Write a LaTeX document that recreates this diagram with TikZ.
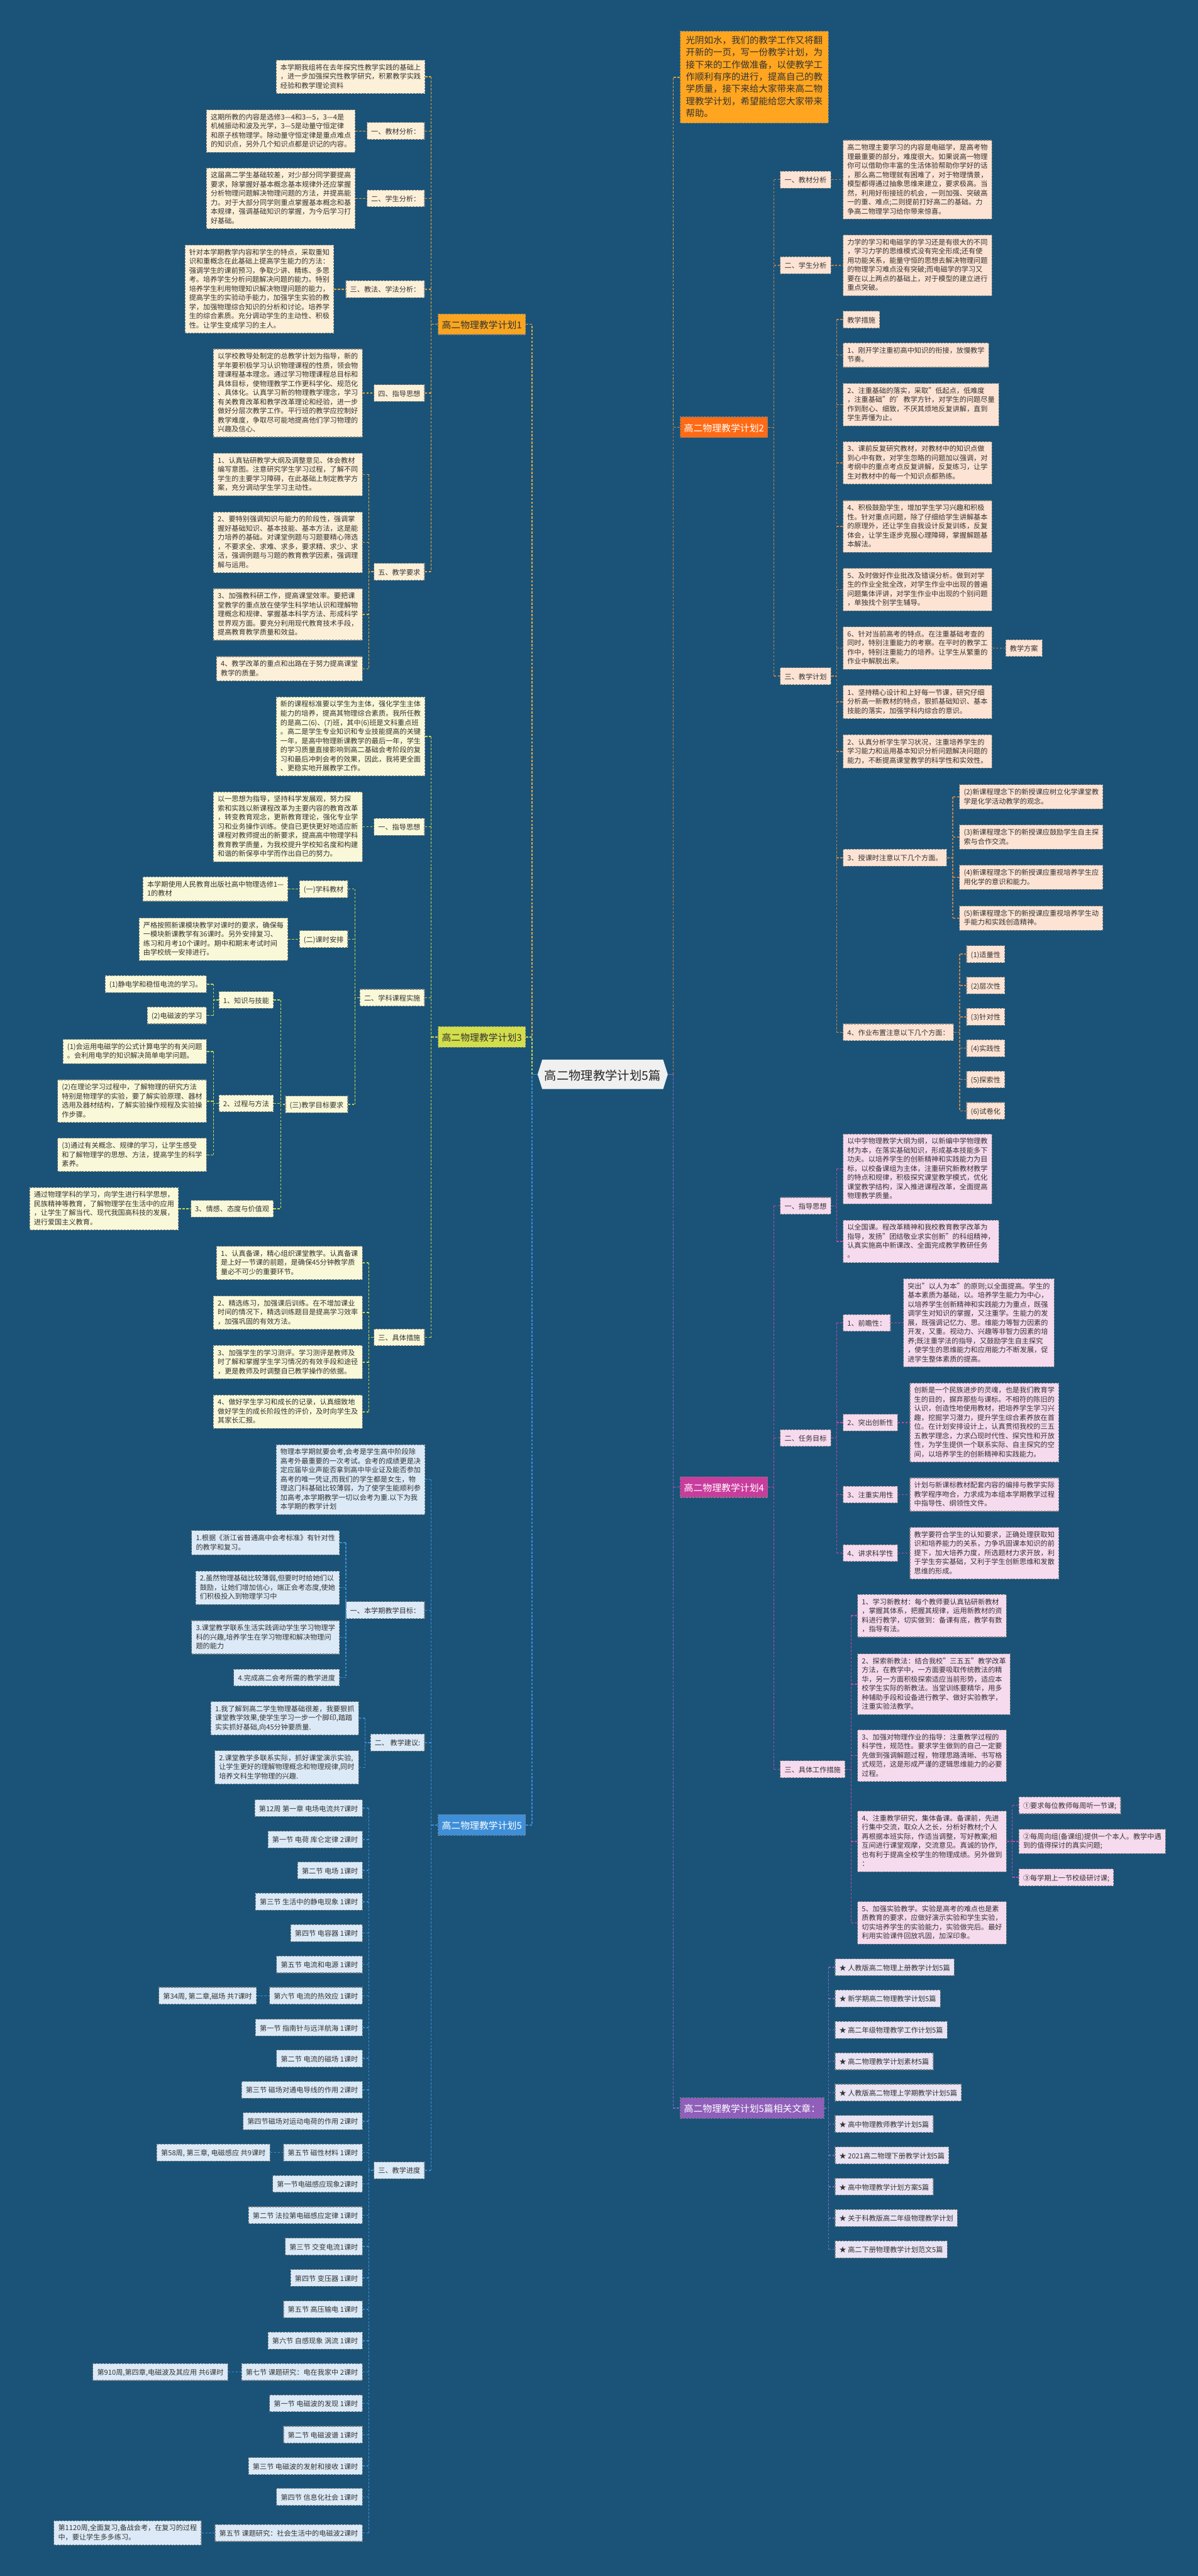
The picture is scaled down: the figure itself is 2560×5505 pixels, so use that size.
\documentclass[tikz,border=0pt]{standalone}
\usepackage{fontspec}
\setmainfont{Noto Sans CJK SC}
\usetikzlibrary{shapes.symbols,positioning}
\definecolor{bg}{HTML}{1A5377}
\definecolor{tx}{HTML}{333333}
\definecolor{cI}{HTML}{FFA51F}
\definecolor{cP1}{HTML}{F9A51F}
\definecolor{cP3}{HTML}{D3DE4B}
\definecolor{cP5}{HTML}{3E8FD9}
\definecolor{cP2}{HTML}{FF6A14}
\definecolor{cP4}{HTML}{C93C9D}
\definecolor{cP6}{HTML}{8F5FBA}
\definecolor{lP1}{HTML}{FDF0D8}
\definecolor{lP3}{HTML}{F9F8D8}
\definecolor{lP5}{HTML}{DCEAF7}
\definecolor{lP2}{HTML}{FDE3D3}
\definecolor{lP4}{HTML}{F6DAEE}
\definecolor{lP6}{HTML}{E9E3F3}
\definecolor{kI}{HTML}{D9A04A}
\definecolor{kP1}{HTML}{EBA73A}
\definecolor{kP3}{HTML}{C9D64C}
\definecolor{kP5}{HTML}{3D8CD6}
\definecolor{kP2}{HTML}{C98048}
\definecolor{kP4}{HTML}{BD4AA2}
\definecolor{kP6}{HTML}{8068C4}
\newcommand\fsleaf{\fontsize{15}{19.5}\selectfont}
\newcommand\fsbig{\fontsize{20}{26}\selectfont}
\newcommand\fsintro{\fontsize{19.5}{26}\selectfont}
\newcommand\fscen{\fontsize{26}{32}\selectfont}
\newcommand\mystrut{\rule[-0.2em]{0pt}{1.3em}}
\newcommand\ltree[6]{%
  \draw[#1] (#2.west) -- (#2.west -| #3);
  \draw[#1] (#4.east -| #3) -- (#5.east -| #3);
  \foreach \nn in {#6}{\draw[#1] (\nn.east) -- (\nn.east -| #3);}%
}
\newcommand\rtree[6]{%
  \draw[#1] (#2.east) -- (#2.east -| #3);
  \draw[#1] (#4.west -| #3) -- (#5.west -| #3);
  \foreach \nn in {#6}{\draw[#1] (\nn.west) -- (\nn.west -| #3);}%
}
\tikzset{
  nbox/.style={rectangle, draw=black!50, line width=1.5pt, dash pattern=on 4pt off 2.5pt, align=left, execute at begin node=\mystrut, execute at end node=\mystrut},
  lf/.style={nbox, inner xsep=9pt, inner ysep=8.25pt, font=\fsleaf, text=tx},
  lfA/.style={lf, fill=lP1},
  lfB/.style={lf, fill=lP3},
  lfC/.style={lf, fill=lP5},
  lfD/.style={lf, fill=lP2},
  lfE/.style={lf, fill=lP4},
  lfF/.style={lf, fill=lP6},
  lvl1/.style={nbox, inner xsep=8pt, inner ysep=9pt, font=\fsbig},
  conn/.style={draw=#1, line width=2pt, dash pattern=on 5pt off 3pt},
}
\begin{document}
\begin{tikzpicture}[x=1pt,y=-1pt]
\useasboundingbox (0,0) rectangle (2560,5505);
\fill[bg] (0,0) rectangle (2560,5505);
\foreach \nm/\xx in {T456/456,T600/600,T739/739,T759/759,T780/780,T788/788,T921/921,TL/1137,TR/1439,T1654/1654,T1771/1771,T1788/1788,T1819/1819,T2036/2036,T2051/2051,T2163/2163}{\coordinate (\nm) at (\xx,0);}

% ---------- center ----------
\node[signal, signal to=west and east, signal pointer angle=145, fill=white!94!black, font=\fscen, text=black!85, inner xsep=5pt, inner ysep=14.5pt, execute at begin node=\mystrut] (cen) at (1288,2296) {高二物理教学计划5篇};

% ---------- plan 1 ----------
\node[lvl1, fill=cP1, text=tx, anchor=east] (p1) at (1124,693) {高二物理教学计划1};
\node[lfA, anchor=east] (p1a) at (909,164) {本学期我组将在去年探究性教学实践的基础上\\，进一步加强探究性教学研究，积累教学实践\\经验和教学理论资料};
\node[lfA, anchor=east] (p1b) at (908,280) {一、教材分析：};
\node[lfA, anchor=east] (p1bL) at (760,280) {这期所教的内容是选修3—4和3—5，3—4是\\机械振动和波及光学，3—5是动量守恒定律\\和原子核物理学。除动量守恒定律是重点难点\\的知识点，另外几个知识点都是识记的内容。};
\node[lfA, anchor=east] (p1c) at (908,424) {二、学生分析：};
\node[lfA, anchor=east] (p1cL) at (760,424) {这届高二学生基础较差，对少部分同学要提高\\要求，除掌握好基本概念基本规律外还应掌握\\分析物理问题解决物理问题的方法，并提高能\\力。对于大部分同学则重点掌握基本概念和基\\本规律，强调基础知识的掌握，为今后学习打\\好基础。};
\node[lfA, anchor=east] (p1d) at (908,618) {三、教法、学法分析：};
\node[lfA, anchor=east] (p1dL) at (714,618) {针对本学期教学内容和学生的特点，采取重知\\识和重概念在此基础上提高学生能力的方法：\\强调学生的课前预习，争取少讲、精练、多思\\考。培养学生分析问题解决问题的能力。特别\\培养学生利用物理知识解决物理问题的能力，\\提高学生的实验动手能力，加强学生实验的教\\学，加强物理综合知识的分析和讨论。培养学\\生的综合素质。充分调动学生的主动性、积极\\性。让学生变成学习的主人。};
\node[lfA, anchor=east] (p1e) at (908,840) {四、指导思想};
\node[lfA, anchor=east] (p1eL) at (775,840) {以学校教导处制定的总教学计划为指导，新的\\学年要积极学习认识物理课程的性质，领会物\\理课程基本理念。通过学习物理课程总目标和\\具体目标，使物理教学工作更科学化、规范化\\、具体化。认真学习新的物理教学理念，学习\\有关教育改革和教学改革理论和经验，进一步\\做好分层次教学工作。平行班的教学应控制好\\教学难度，争取尽可能地提高他们学习物理的\\兴趣及信心、};
\node[lfA, anchor=east] (p1f) at (908,1222) {五、教学要求};
\node[lfA, anchor=east] (p1f1) at (775,1014) {1、认真钻研教学大纲及调整意见、体会教材\\编写意图。注意研究学生学习过程，了解不同\\学生的主要学习障碍，在此基础上制定教学方\\案，充分调动学生学习主动性。};
\node[lfA, anchor=east] (p1f2) at (775,1159) {2、要特别强调知识与能力的阶段性，强调掌\\握好基础知识、基本技能、基本方法，这是能\\力培养的基础。对课堂例题与习题要精心筛选\\，不要求全、求难、求多，要求精、求少、求\\活，强调例题与习题的教育教学因素，强调理\\解与运用。};
\node[lfA, anchor=east] (p1f3) at (775,1313) {3、加强教科研工作，提高课堂效率。要把课\\堂教学的重点放在使学生科学地认识和理解物\\理概念和规律、掌握基本科学方法、形成科学\\世界观方面。要充分利用现代教育技术手段，\\提高教育教学质量和效益。};
\node[lfA, anchor=east] (p1f4) at (775,1429) {4、教学改革的重点和出路在于努力提高课堂\\教学的质量。};
\ltree{conn=kP1}{p1}{T921}{p1a}{p1f}{p1a,p1b,p1c,p1d,p1e,p1f}
\draw[conn=kP1] (p1bL.east) -- (p1b.west);
\draw[conn=kP1] (p1cL.east) -- (p1c.west);
\draw[conn=kP1] (p1dL.east) -- (p1d.west);
\draw[conn=kP1] (p1eL.east) -- (p1e.west);
\ltree{conn=kP1}{p1f}{T788}{p1f1}{p1f4}{p1f1,p1f2,p1f3,p1f4}

% ---------- plan 3 ----------
\node[lvl1, fill=cP3, text=tx, anchor=east] (p3) at (1124,2216) {高二物理教学计划3};
\node[lfB, anchor=east] (p3a) at (909,1574) {新的课程标准要以学生为主体，强化学生主体\\能力的培养，提高其物理综合素质。我所任教\\的是高二(6)、(7)班，其中(6)班是文科重点班\\。高二是学生专业知识和专业技能提高的关键\\一年，是高中物理新课教学的最后一年，学生\\的学习质量直接影响到高二基础会考阶段的复\\习和最后冲刺会考的效果，因此，我将更全面\\、更稳实地开展教学工作。};
\node[lfB, anchor=east] (p3b) at (908,1767) {一、指导思想};
\node[lfB, anchor=east] (p3bL) at (775,1767) {以一思想为指导，坚持科学发展观，努力探\\索和实践以新课程改革为主要内容的教育改革\\，转变教育观念，更新教育理论，强化专业学\\习和业务操作训练。使自已更快更好地适应新\\课程对教师提出的新要求，提高高中物理学科\\教育教学质量，为我校提升学校知名度和构建\\和谐的新保亭中学而作出自已的努力。};
\node[lfB, anchor=east] (p3c) at (908,2132) {二、学科课程实施};
\node[lfB, anchor=east] (p3c1) at (744,1900) {(一)学科教材};
\node[lfB, anchor=east] (p3c1L) at (616,1900) {本学期使用人民教育出版社高中物理选修1—\\1的教材};
\node[lfB, anchor=east] (p3c2) at (744,2007) {(二)课时安排};
\node[lfB, anchor=east] (p3c2L) at (616,2007) {严格按照新课模块教学对课时的要求，确保每\\一模块新课教学有36课时。另外安排复习、\\练习和月考10个课时。期中和期末考试时间\\由学校统一安排进行。};
\node[lfB, anchor=east] (p3c3) at (744,2360) {(三)教学目标要求};
\node[lfB, anchor=east] (k1) at (585,2137) {1、知识与技能};
\node[lfB, anchor=east] (k1a) at (442,2103) {(1)静电学和稳恒电流的学习。};
\node[lfB, anchor=east] (k1b) at (442,2170) {(2)电磁波的学习};
\node[lfB, anchor=east] (k2) at (585,2358) {2、过程与方法};
\node[lfB, anchor=east] (k2a) at (442,2247) {(1)会运用电磁学的公式计算电学的有关问题\\。会利用电学的知识解决简单电学问题。};
\node[lfB, anchor=east] (k2b) at (442,2353) {(2)在理论学习过程中，了解物理的研究方法\\特别是物理学的实验，要了解实验原理、器材\\选用及器材结构，了解实验操作规程及实验操\\作步骤。};
\node[lfB, anchor=east] (k2c) at (442,2468) {(3)通过有关概念、规律的学习，让学生感受\\和了解物理学的思想、方法，提高学生的科学\\素养。};
\node[lfB, anchor=east] (k3) at (585,2583) {3、情感、态度与价值观};
\node[lfB, anchor=east] (k3L) at (382,2583) {通过物理学科的学习，向学生进行科学思想，\\民族精神等教育，了解物理学在生活中的应用\\，让学生了解当代、现代我国高科技的发展，\\进行爱国主义教育。};
\node[lfB, anchor=east] (p3d) at (908,2858) {三、具体措施};
\node[lfB, anchor=east] (p3d1) at (775,2699) {1、认真备课，精心组织课堂教学。认真备课\\是上好一节课的前题，是确保45分钟教学质\\量必不可少的重要环节。};
\node[lfB, anchor=east] (p3d2) at (775,2805) {2、精选练习，加强课后训练。在不增加课业\\时间的情况下，精选训练题目是提高学习效率\\，加强巩固的有效方法。};
\node[lfB, anchor=east] (p3d3) at (775,2911) {3、加强学生的学习测评。学习测评是教师及\\时了解和掌握学生学习情况的有效手段和途径\\，更是教师及时调整自已教学操作的依据。};
\node[lfB, anchor=east] (p3d4) at (775,3017) {4、做好学生学习和成长的记录，认真细致地\\做好学生的成长阶段性的评价，及时向学生及\\其家长汇报。};
\ltree{conn=kP3}{p3}{T921}{p3a}{p3d}{p3a,p3b,p3c,p3d}
\draw[conn=kP3] (p3bL.east) -- (p3b.west);
\ltree{conn=kP3}{p3c}{T759}{p3c1}{p3c3}{p3c1,p3c2,p3c3}
\draw[conn=kP3] (p3c1L.east) -- (p3c1.west);
\draw[conn=kP3] (p3c2L.east) -- (p3c2.west);
\ltree{conn=kP3}{p3c3}{T600}{k1}{k3}{k1,k2,k3}
\ltree{conn=kP3}{k1}{T456}{k1a}{k1b}{k1a,k1b}
\ltree{conn=kP3}{k2}{T456}{k2a}{k2c}{k2a,k2b,k2c}
\draw[conn=kP3] (k3L.east) -- (k3.west);
\ltree{conn=kP3}{p3d}{T788}{p3d1}{p3d4}{p3d1,p3d2,p3d3,p3d4}

% ---------- plan 5 ----------
\node[lvl1, fill=cP5, text=white, anchor=east] (p5) at (1124,3900) {高二物理教学计划5};
\node[lfC, anchor=east] (p5a) at (909,3162) {物理本学期就要会考,会考是学生高中阶段除\\高考外最重要的一次考试。会考的成绩更是决\\定应届毕业声能否拿到高中毕业证及能否参加\\高考的唯一凭证,而我们的学生都是女生，物\\理这门科基础比较薄弱，为了使学生能顺利参\\加高考,本学期教学一切以会考为重.以下为我\\本学期的教学计划};
\node[lfC, anchor=east] (p5b) at (908,3441) {一、本学期教学目标：};
\node[lfC, anchor=east] (p5b1) at (726,3297) {1.根据《浙江省普通高中会考标准》有针对性\\的教学和复习。};
\node[lfC, anchor=east] (p5b2) at (726,3393) {2.虽然物理基础比较薄弱,但要时时给她们以\\鼓励，让她们增加信心，端正会考态度,使她\\们积极投入到物理学习中};
\node[lfC, anchor=east] (p5b3) at (726,3499) {3.课堂教学联系生活实践调动学生学习物理学\\科的兴趣,培养学生在学习物理和解决物理问\\题的能力};
\node[lfC, anchor=east] (p5b4) at (726,3585) {4.完成高二会考所需的教学进度};
\node[lfC, anchor=east] (p5c) at (908,3724) {二、 教学建议:};
\node[lfC, anchor=east] (p5c1) at (767,3672) {1.我了解到高二学生物理基础很差，我要狠抓\\课堂教学效果,使学生学习一步一个脚印,踏踏\\实实抓好基础,向45分钟要质量.};
\node[lfC, anchor=east] (p5c2) at (767,3777) {2.课堂教学多联系实际，抓好课堂演示实验,\\让学生更好的理解物理概念和物理规律,同时\\培养文科生学物理的兴趣.};
\node[lfC, anchor=east] (p5d) at (908,4638) {三、教学进度};
\node[lfC, anchor=east] (s1) at (775,3864) {第12周 第一章 电场电流共7课时};
\node[lfC, anchor=east] (s2) at (775,3931) {第一节 电荷 库仑定律 2课时};
\node[lfC, anchor=east] (s3) at (775,3997) {第二节 电场 1课时};
\node[lfC, anchor=east] (s4) at (775,4064) {第三节 生活中的静电现象 1课时};
\node[lfC, anchor=east] (s5) at (775,4131) {第四节 电容器 1课时};
\node[lfC, anchor=east] (s6) at (775,4198) {第五节 电流和电源 1课时};
\node[lfC, anchor=east] (s7) at (775,4265) {第六节 电流的热效应 1课时};
\node[lfC, anchor=east] (s8) at (775,4333) {第一节 指南针与远洋航海 1课时};
\node[lfC, anchor=east] (s9) at (775,4399) {第二节 电流的磁场 1课时};
\node[lfC, anchor=east] (s10) at (775,4466) {第三节 磁场对通电导线的作用 2课时};
\node[lfC, anchor=east] (s11) at (775,4533) {第四节磁场对运动电荷的作用 2课时};
\node[lfC, anchor=east] (s12) at (775,4600) {第五节 磁性材料 1课时};
\node[lfC, anchor=east] (s13) at (775,4667) {第一节电磁感应现象2课时};
\node[lfC, anchor=east] (s14) at (775,4734) {第二节 法拉第电磁感应定律 1课时};
\node[lfC, anchor=east] (s15) at (775,4801) {第三节 交变电流1课时};
\node[lfC, anchor=east] (s16) at (775,4868) {第四节 变压器 1课时};
\node[lfC, anchor=east] (s17) at (775,4935) {第五节 高压输电 1课时};
\node[lfC, anchor=east] (s18) at (775,5002) {第六节 自感现象 涡流 1课时};
\node[lfC, anchor=east] (s19) at (775,5069) {第七节 课题研究：电在我家中 2课时};
\node[lfC, anchor=east] (s20) at (775,5136) {第一节 电磁波的发现 1课时};
\node[lfC, anchor=east] (s21) at (775,5203) {第二节 电磁波谱 1课时};
\node[lfC, anchor=east] (s22) at (775,5270) {第三节 电磁波的发射和接收 1课时};
\node[lfC, anchor=east] (s23) at (775,5336) {第四节 信息化社会 1课时};
\node[lfC, anchor=east] (s24) at (775,5413) {第五节 课题研究：社会生活中的电磁波2课时};
\node[lfC, anchor=east] (w1) at ([xshift=-27pt]s7.west) {第34周, 第二章,磁场 共7课时};
\node[lfC, anchor=east] (w2) at ([xshift=-28pt]s12.west) {第58周, 第三章, 电磁感应 共9课时};
\node[lfC, anchor=east] (w3) at ([xshift=-28pt]s19.west) {第910周,第四章,电磁波及其应用 共6课时};
\node[lfC, anchor=east] (w4) at ([xshift=-28pt]s24.west) {第1120周,全面复习,备战会考，在复习的过程\\中，要让学生多多练习。};
\ltree{conn=kP5}{p5}{T921}{p5a}{p5d}{p5a,p5b,p5c,p5d}
\ltree{conn=kP5}{p5b}{T739}{p5b1}{p5b4}{p5b1,p5b2,p5b3,p5b4}
\ltree{conn=kP5}{p5c}{T780}{p5c1}{p5c2}{p5c1,p5c2}
\ltree{conn=kP5}{p5d}{T788}{s1}{s24}{s1,s2,s3,s4,s5,s6,s7,s8,s9,s10,s11,s12,s13,s14,s15,s16,s17,s18,s19,s20,s21,s22,s23,s24}
\draw[conn=kP5] (w1.east) -- (s7.west);
\draw[conn=kP5] (w2.east) -- (s12.west);
\draw[conn=kP5] (w3.east) -- (s19.west);
\draw[conn=kP5] (w4.east) -- (s24.west);

% ---------- intro ----------
\node[nbox, fill=cI, font=\fsintro, text=tx, inner xsep=12pt, inner ysep=10pt, anchor=west] (intro) at (1453,165) {光阴如水，我们的教学工作又将翻\\开新的一页，写一份教学计划，为\\接下来的工作做准备，以使教学工\\作顺利有序的进行，提高自己的教\\学质量，接下来给大家带来高二物\\理教学计划，希望能给您大家带来\\帮助。};

% ---------- plan 2 ----------
\node[lvl1, fill=cP2, text=white, anchor=west] (p2) at (1453,913) {高二物理教学计划2};
\node[lfD, anchor=west] (r2a) at (1667,384) {一、教材分析};
\node[lfD, anchor=west] (r2aL) at (1801,384) {高二物理主要学习的内容是电磁学，是高考物\\理最重要的部分，难度很大。如果说高一物理\\你可以借助你丰富的生活体验帮助你学好的话\\，那么高二物理就有困难了，对于物理情景，\\模型都得通过抽象思维来建立，要求极高。当\\然，利用好衔接班的机会，一则加强、突破高\\一的重、难点;二则提前打好高二的基础。力\\争高二物理学习给你带来惊喜。};
\node[lfD, anchor=west] (r2b) at (1667,567) {二、学生分析};
\node[lfD, anchor=west] (r2bL) at (1801,567) {力学的学习和电磁学的学习还是有很大的不同\\，学习力学的思维模式没有完全形成;还有使\\用功能关系，能量守恒的思想去解决物理问题\\的物理学习难点没有突破;而电磁学的学习又\\要在以上两点的基础上，对于模型的建立进行\\重点突破。};
\node[lfD, anchor=west] (r2c) at (1667,1445) {三、教学计划};
\node[lfD, anchor=west] (m0) at (1801,683) {教学措施};
\node[lfD, anchor=west] (m1) at (1801,759) {1、刚开学注重初高中知识的衔接，放慢教学\\节奏。};
\node[lfD, anchor=west] (m2) at (1801,865) {2、注重基础的落实，采取"低起点，低难度\\，注重基础"的'教学方针，对学生的问题尽量\\作到耐心、细致，不厌其烦地反复讲解，直到\\学生弄懂为止。};
\node[lfD, anchor=west] (m3) at (1801,989) {3、课前反复研究教材，对教材中的知识点做\\到心中有数，对学生忽略的问题加以强调，对\\考纲中的重点考点反复讲解，反复练习，让学\\生对教材中的每一个知识点都熟练。};
\node[lfD, anchor=west] (m4) at (1801,1125) {4、积极鼓励学生，增加学生学习兴趣和积极\\性。针对重点问题，除了仔细给学生讲解基本\\的原理外，还让学生自我设计反复训练，反复\\体会，让学生逐步克服心理障碍，掌握解题基\\本解法。};
\node[lfD, anchor=west] (m5) at (1801,1260) {5、及时做好作业批改及错误分析。做到对学\\生的作业全批全改，对学生作业中出现的普遍\\问题集体评讲，对学生作业中出现的个别问题\\，单独找个别学生辅导。};
\node[lfD, anchor=west] (m6) at (1801,1385) {6、针对当前高考的特点。在注重基础考查的\\同时，特别注重能力的考察。在平时的教学工\\作中，特别注重能力的培养。让学生从繁重的\\作业中解脱出来。};
\node[lfD, anchor=west] (fa) at ([xshift=28pt]m6.east) {教学方案};
\node[lfD, anchor=west] (m7) at (1801,1500) {1、坚持精心设计和上好每一节课，研究仔细\\分析高一新教材的特点，狠抓基础知识、基本\\技能的落实，加强学科内综合的意识。};
\node[lfD, anchor=west] (m8) at (1801,1606) {2、认真分析学生学习状况，注重培养学生的\\学习能力和运用基本知识分析问题解决问题的\\能力，不断提高课堂教学的科学性和实效性。};
\node[lfD, anchor=west] (m9) at (1801,1833) {3、授课时注意以下几个方面。};
\node[lfD, anchor=west] (q2) at (2050,1703) {(2)新课程理念下的新授课应树立化学课堂教\\学是化学活动教学的观念。};
\node[lfD, anchor=west] (q3) at (2050,1789) {(3)新课程理念下的新授课应鼓励学生自主探\\索与合作交流。};
\node[lfD, anchor=west] (q4) at (2050,1875) {(4)新课程理念下的新授课应重视培养学生应\\用化学的意识和能力。};
\node[lfD, anchor=west] (q5) at (2050,1962) {(5)新课程理念下的新授课应重视培养学生动\\手能力和实践创造精神。};
\node[lfD, anchor=west] (m10) at (1801,2206) {4、作业布置注意以下几个方面：};
\node[lfD, anchor=west] (z1) at (2065,2039) {(1)适量性};
\node[lfD, anchor=west] (z2) at (2065,2106) {(2)层次性};
\node[lfD, anchor=west] (z3) at (2065,2173) {(3)针对性};
\node[lfD, anchor=west] (z4) at (2065,2240) {(4)实践性};
\node[lfD, anchor=west] (z5) at (2065,2307) {(5)探索性};
\node[lfD, anchor=west] (z6) at (2065,2374) {(6)试卷化};
\rtree{conn=kP2}{p2}{T1654}{r2a}{r2c}{r2a,r2b,r2c}
\draw[conn=kP2] (r2a.east) -- (r2aL.west);
\draw[conn=kP2] (r2b.east) -- (r2bL.west);
\rtree{conn=kP2}{r2c}{T1788}{m0}{m10}{m0,m1,m2,m3,m4,m5,m6,m7,m8,m9,m10}
\draw[conn=kP2] (m6.east) -- (fa.west);
\rtree{conn=kP2}{m9}{T2036}{q2}{q5}{q2,q3,q4,q5}
\rtree{conn=kP2}{m10}{T2051}{z1}{z6}{z1,z2,z3,z4,z5,z6}

% ---------- plan 4 ----------
\node[lvl1, fill=cP4, text=white, anchor=west] (p4) at (1453,3178) {高二物理教学计划4};
\node[lfE, anchor=west] (r4a) at (1667,2577) {一、指导思想};
\node[lfE, anchor=west] (r4a1) at (1801,2498) {以中学物理教学大纲为纲，以新编中学物理教\\材为本，在落实基础知识，形成基本技能多下\\功夫。以培养学生的创新精神和实践能力为目\\标，以校备课组为主体，注重研究新教材教学\\的特点和规律，积极探究课堂教学模式，优化\\课堂教学结构，深入推进课程改革，全面提高\\物理教学质量。};
\node[lfE, anchor=west] (r4a2) at (1801,2653) {以全国课。程改革精神和我校教育教学改革为\\指导，发扬"团结敬业求实创新"的科组精神，\\认真实施高中新课改、全面完成教学教研任务\\。};
\node[lfE, anchor=west] (r4b) at (1667,3073) {二、任务目标};
\node[lfE, anchor=west] (g1) at (1801,2827) {1、前瞻性：};
\node[lfE, anchor=west] (g1L) at (1930,2827) {突出"以人为本"的原则;以全面提高。学生的\\基本素质为基础，以。培养学生能力为中心，\\以培养学生创新精神和实践能力为重点，既强\\调学生对知识的掌握，又注重学。生能力的发\\展，既强调记忆力、思。维能力等智力因素的\\开发，又重。视动力、兴趣等非智力因素的培\\养;既注重学法的指导，又鼓励学生自主探究\\，使学生的思维能力和应用能力不断发展，促\\进学生整体素质的提高。};
\node[lfE, anchor=west] (g2) at (1801,3040) {2、突出创新性};
\node[lfE, anchor=west] (g2L) at (1944,3040) {创新是一个民族进步的灵魂，也是我们教育学\\生的目的，摒弃那些与课标。不相符的陈旧的\\认识，创造性地使用教材，把培养学生学习兴\\趣，挖掘学习潜力，提升学生综合素养放在首\\位。在计划安排设计上，认真贯彻我校的三五\\五教学理念，力求凸现时代性、探究性和开放\\性，为学生提供一个联系实际、自主探究的空\\间，以培养学生的创新精神和实践能力。};
\node[lfE, anchor=west] (g3) at (1801,3194) {3、注重实用性};
\node[lfE, anchor=west] (g3L) at (1944,3194) {计划与新课标教材配套内容的编排与教学实际\\教学程序吻合，力求成为本组本学期教学过程\\中指导性、纲领性文件。};
\node[lfE, anchor=west] (g4) at (1801,3319) {4、讲求科学性};
\node[lfE, anchor=west] (g4L) at (1944,3319) {教学要符合学生的认知要求，正确处理获取知\\识和培养能力的关系，力争巩固课本知识的前\\提下，加大培养力度，所选题材力求开放，利\\于学生夯实基础，又利于学生创新思维和发散\\思维的形成。};
\node[lfE, anchor=west] (r4c) at (1667,3781) {三、具体工作措施};
\node[lfE, anchor=west] (h1) at (1832,3453) {1、学习新教材：每个教师要认真钻研新教材\\，掌握其体系，把握其规律，运用新教材的资\\料进行教学，切实做到：备课有底，教学有数\\，指导有法。};
\node[lfE, anchor=west] (h2) at (1832,3599) {2、探索新教法：结合我校"三五五"教学改革\\方法，在教学中，一方面要吸取传统教法的精\\华，另一方面积极探索适应当前形势，适应本\\校学生实际的新教法。当堂训练要精华，用多\\种辅助手段和设备进行教学、做好实验教学，\\注重实验法教学。};
\node[lfE, anchor=west] (h3) at (1832,3752) {3、加强对物理作业的指导：注重教学过程的\\科学性，规范性。要求学生做到的自己一定要\\先做到强调解题过程，物理思路清晰、书写格\\式规范，这是形成严谨的逻辑思维能力的必要\\过程。};
\node[lfE, anchor=west] (h4) at (1832,3935) {4、注重教学研究，集体备课。备课前，先进\\行集中交流，取众人之长，分析好教材;个人\\再根据本班实际，作适当调整，写好教案;相\\互间进行课堂观摩，交流意见。真诚的协作,\\也有利于提高全校学生的物理成绩。另外做到\\：};
\node[lfE, anchor=west] (h4a) at (2177,3858) {①要求每位教师每周听一节课;};
\node[lfE, anchor=west] (h4b) at (2177,3935) {②每周向组(备课组)提供一个本人。教学中遇\\到的值得探讨的真实问题;};
\node[lfE, anchor=west] (h4c) at (2177,4012) {③每学期上一节校级研讨课;};
\node[lfE, anchor=west] (h5) at (1832,4109) {5、加强实验教学。实验是高考的难点也是素\\质教育的要求，应做好演示实验和学生实验，\\切实培养学生的实验能力，实验做完后。最好\\利用实验课件回放巩固，加深印象。};
\rtree{conn=kP4}{p4}{T1654}{r4a}{r4c}{r4a,r4b,r4c}
\rtree{conn=kP4}{r4a}{T1788}{r4a1}{r4a2}{r4a1,r4a2}
\rtree{conn=kP4}{r4b}{T1788}{g1}{g4}{g1,g2,g3,g4}
\draw[conn=kP4] (g1.east) -- (g1L.west);
\draw[conn=kP4] (g2.east) -- (g2L.west);
\draw[conn=kP4] (g3.east) -- (g3L.west);
\draw[conn=kP4] (g4.east) -- (g4L.west);
\rtree{conn=kP4}{r4c}{T1819}{h1}{h5}{h1,h2,h3,h4,h5}
\rtree{conn=kP4}{h4}{T2163}{h4a}{h4c}{h4a,h4b,h4c}

% ---------- related ----------
\node[lvl1, fill=cP6, text=white, anchor=west] (rel) at (1453,4505) {高二物理教学计划5篇相关文章：};
\node[lfF, anchor=west] (e1) at (1784,4204) {★ 人教版高二物理上册教学计划5篇};
\node[lfF, anchor=west] (e2) at (1784,4271) {★ 新学期高二物理教学计划5篇};
\node[lfF, anchor=west] (e3) at (1784,4338) {★ 高二年级物理教学工作计划5篇};
\node[lfF, anchor=west] (e4) at (1784,4405) {★ 高二物理教学计划素材5篇};
\node[lfF, anchor=west] (e5) at (1784,4472) {★ 人教版高二物理上学期教学计划5篇};
\node[lfF, anchor=west] (e6) at (1784,4539) {★ 高中物理教师教学计划5篇};
\node[lfF, anchor=west] (e7) at (1784,4606) {★ 2021高二物理下册教学计划5篇};
\node[lfF, anchor=west] (e8) at (1784,4673) {★ 高中物理教学计划方案5篇};
\node[lfF, anchor=west] (e9) at (1784,4740) {★ 关于科教版高二年级物理教学计划};
\node[lfF, anchor=west] (e10) at (1784,4807) {★ 高二下册物理教学计划范文5篇};
\rtree{conn=kP6}{rel}{T1771}{e1}{e10}{e1,e2,e3,e4,e5,e6,e7,e8,e9,e10}

% ---------- main trunks ----------
\draw[conn=kP1] (p1.east) -- (p1.east -| TL) -- (p3.east -| TL);
\draw[conn=kP3] (p3.east) -- (p3.east -| TL) -- (cen.west -| TL);
\draw[conn=kP5] (p5.east) -- (p5.east -| TL) -- (cen.west -| TL);
\draw[kP5, line width=2pt] (cen.west) -- (cen.west -| TL);
\draw[conn=kI] (intro.west) -- (intro.west -| TR) -- (p2.west -| TR);
\draw[conn=kP2] (p2.west) -- (p2.west -| TR) -- (cen.east -| TR);
\draw[conn=kP6] (cen.east -| TR) -- (rel.west -| TR) -- (rel.west);
\draw[conn=kP4] (p4.west) -- (p4.west -| TR);
\draw[kP6, line width=2pt] (cen.east) -- (cen.east -| TR);
\end{tikzpicture}
\end{document}
